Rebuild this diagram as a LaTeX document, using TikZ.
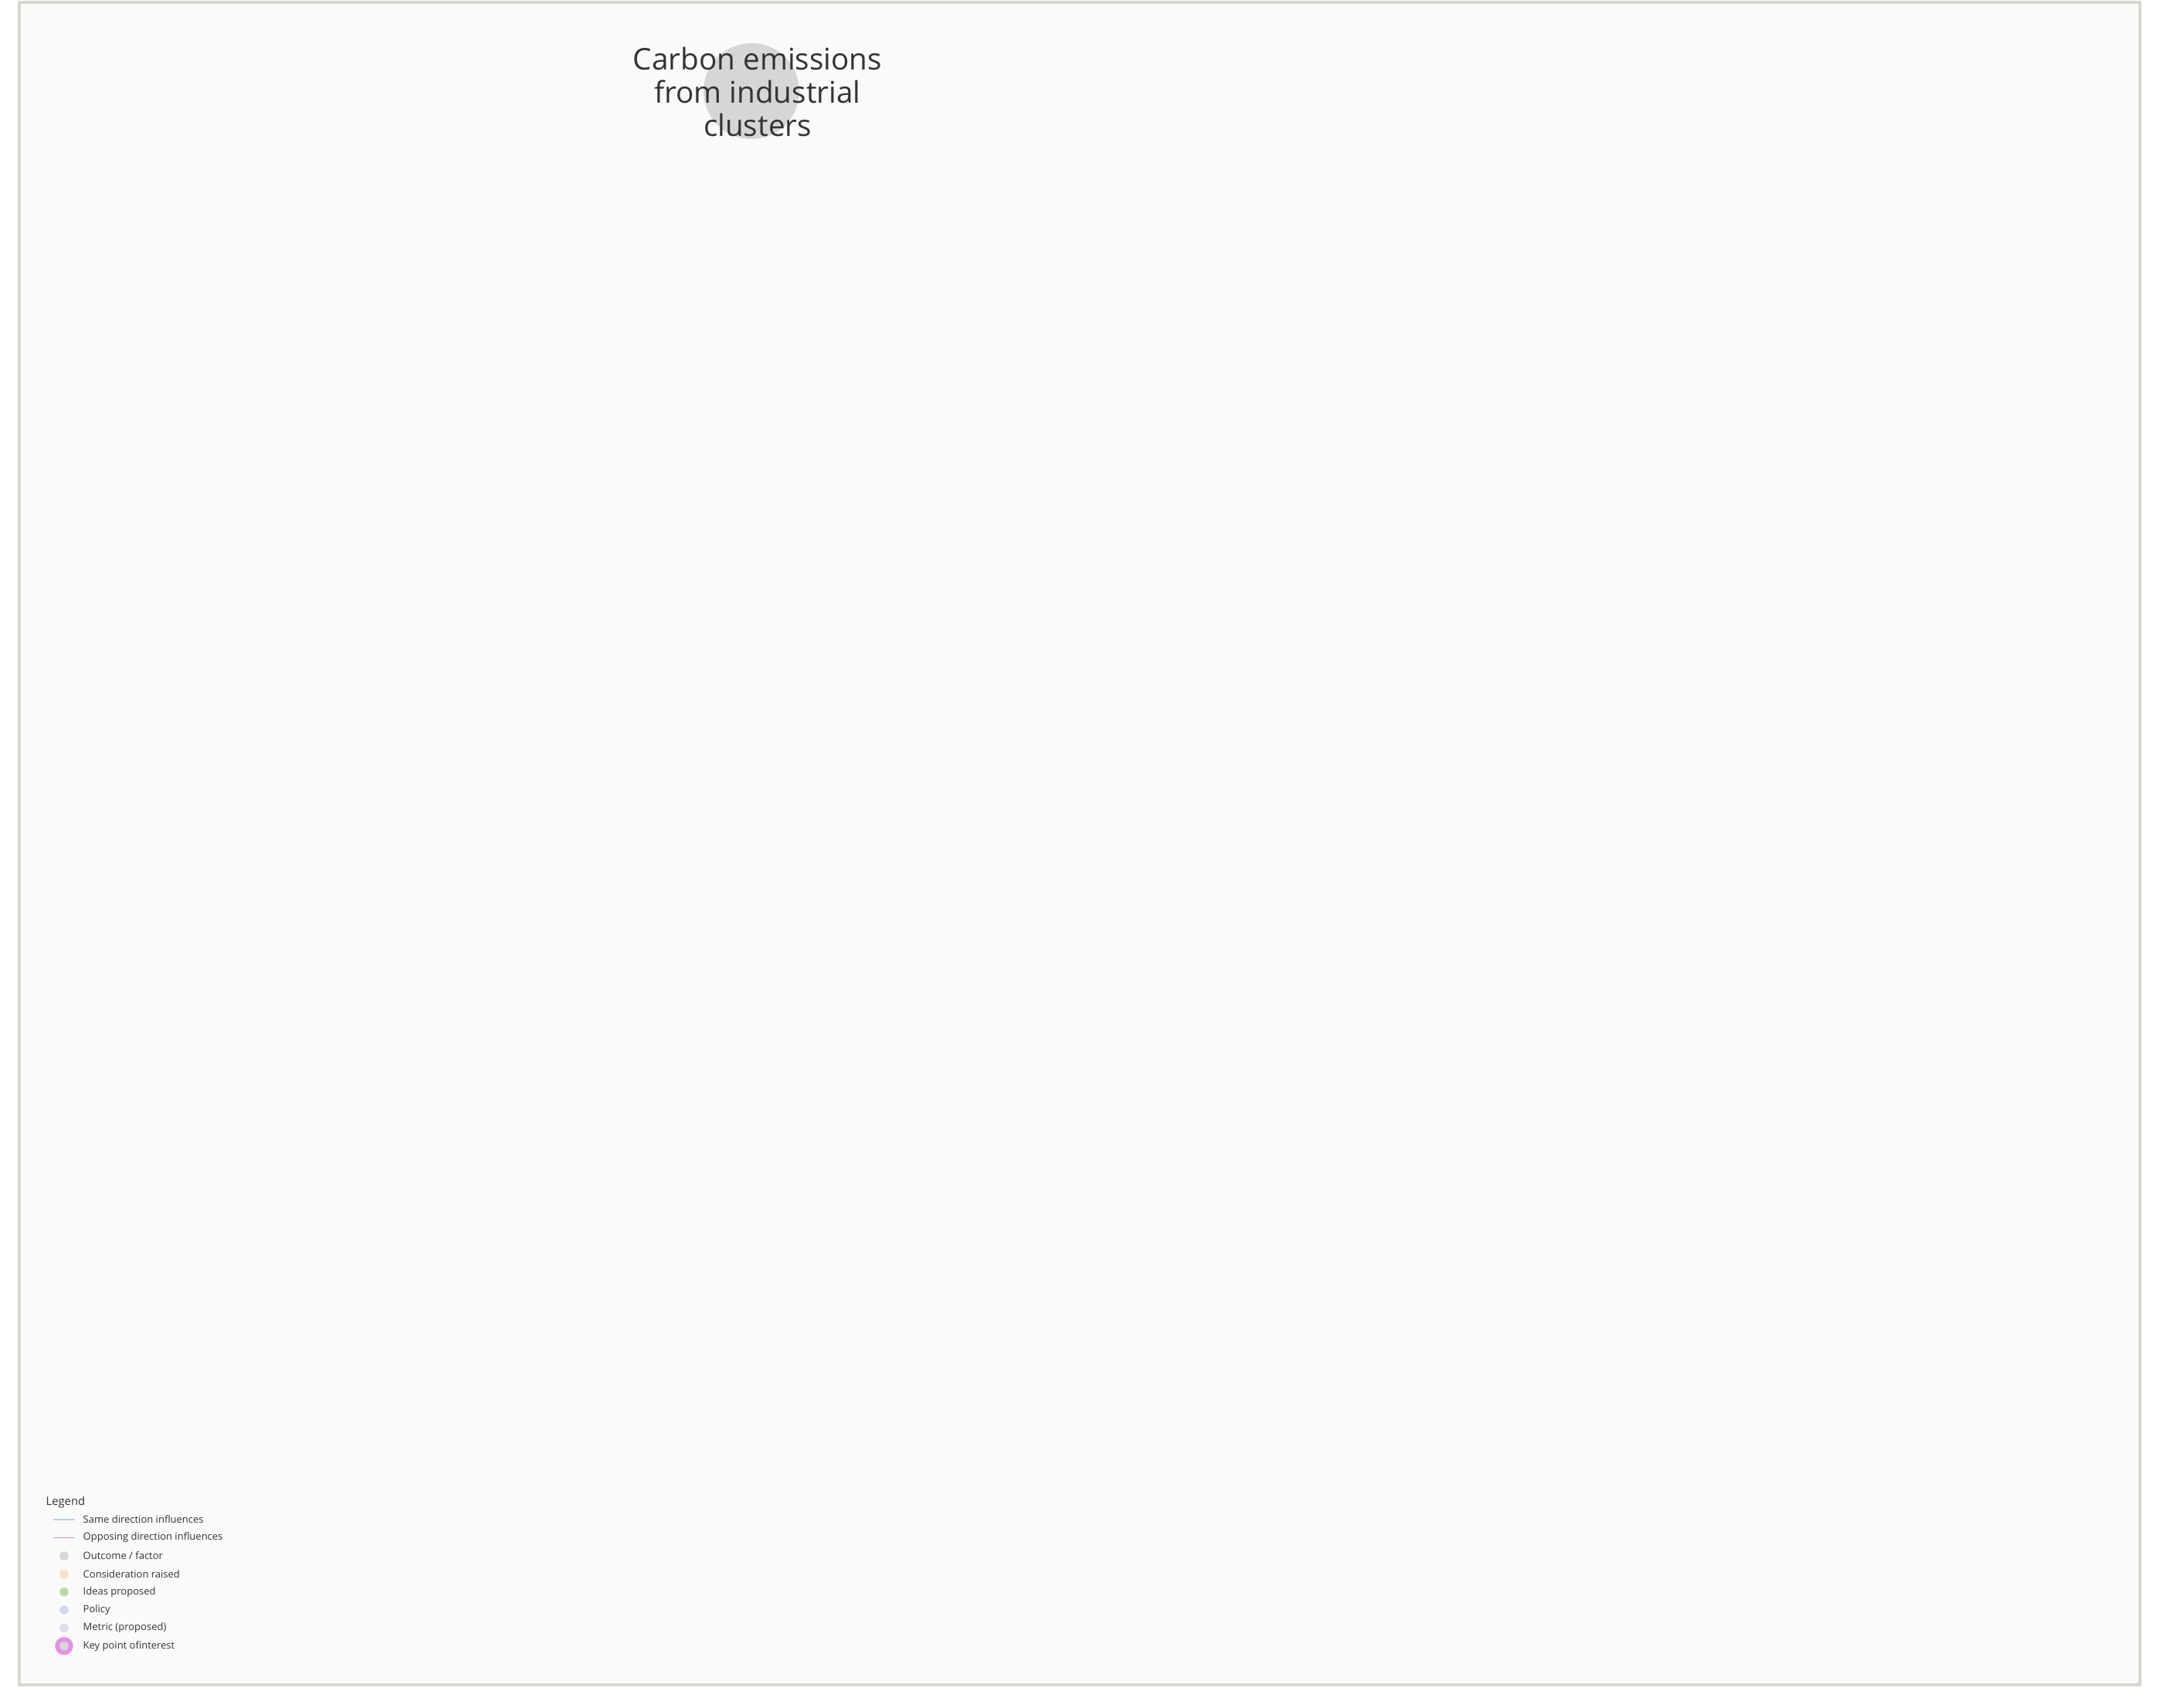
\documentclass[tikz,border=0pt]{standalone}
\usepackage{fontspec}
\setmainfont{Open Sans}
\usepackage{tikz}
\usepackage{xcolor}
\definecolor{framegray}{HTML}{D6D6D2}
\definecolor{paper}{HTML}{FAFAF8}
\definecolor{inkgray}{HTML}{333333}
\definecolor{outcomegray}{HTML}{D6D6D6}
\definecolor{sameblue}{HTML}{B9D0E8}
\definecolor{opppink}{HTML}{D88FD8}
\definecolor{considerorange}{HTML}{F8E2CC}
\definecolor{ideagreen}{HTML}{B8DDA9}
\definecolor{policyblue}{HTML}{CEDCEF}
\definecolor{metricpurple}{HTML}{DFDDEC}
\definecolor{keypink}{HTML}{E391E6}
\tikzset{dot/.style={circle,inner sep=0pt,minimum size=0.115cm},
 legtext/.style={anchor=west,inner sep=0pt,text=inkgray,font=\fontsize{3.7}{4.5}\selectfont},
 legline/.style={line width=0.35pt},
 }

\begin{document}
\begin{tikzpicture}
        \useasboundingbox (0, 0) rectangle (27.97, -22.12);
        \fill[white] (0, 0) rectangle (27.97, -22.12);
        \draw[framegray, fill=paper, line width=0.04cm] (0.25, -0.03) rectangle (27.71, -21.82);

        % outcome in the centre
        \node[circle, fill=outcomegray, minimum size=1.24cm, inner sep=0pt] (carbon) at (9.73, -1.18) {};
        \node[align=center, text=inkgray, font=\fontsize{11}{12.3}\selectfont] (carbontext) at (9.81, -1.19)
            {Carbon emissions\\from industrial\\clusters};

        % legend
        \node[legtext, font=\fontsize{4.2}{5}\selectfont] (legend) at (0.59, -19.46) {Legend};
        \coordinate (samea) at (0.69, -19.68);
        \coordinate (sameb) at (0.97, -19.68);
        \draw[legline, sameblue] (samea) -- (sameb);
        \node[legtext] (same) at (1.07, -19.68) {Same direction influences};
        \coordinate (oppa) at (0.69, -19.915);
        \coordinate (oppb) at (0.97, -19.915);
        \draw[legline, opppink] (oppa) -- (oppb);
        \node[legtext] (opp) at (1.07, -19.915) {Opposing direction influences};
        \node[dot, fill=outcomegray] (outcomedot) at (0.83, -20.15) {};
        \node[legtext] (outcome) at (1.07, -20.15) {Outcome / factor};
        \node[dot, fill=considerorange] (considerdot) at (0.83, -20.383) {};
        \node[legtext] (consider) at (1.07, -20.383) {Consideration raised};
        \node[dot, fill=ideagreen] (ideadot) at (0.83, -20.617) {};
        \node[legtext] (idea) at (1.07, -20.617) {Ideas proposed};
        \node[dot, fill=policyblue] (policydot) at (0.83, -20.85) {};
        \node[legtext] (policy) at (1.07, -20.85) {Policy};
        \node[dot, fill=metricpurple] (metricdot) at (0.83, -21.083) {};
        \node[legtext] (metric) at (1.07, -21.083) {Metric (proposed)};
        \node[dot, fill=keypink, minimum size=0.234cm] (keyring) at (0.83, -21.317) {};
        \node[dot, fill=outcomegray] (keydot) at (0.83, -21.317) {};
        \node[legtext] (key) at (1.07, -21.317) {Key point ofinterest};
    \end{tikzpicture}
\end{document}
